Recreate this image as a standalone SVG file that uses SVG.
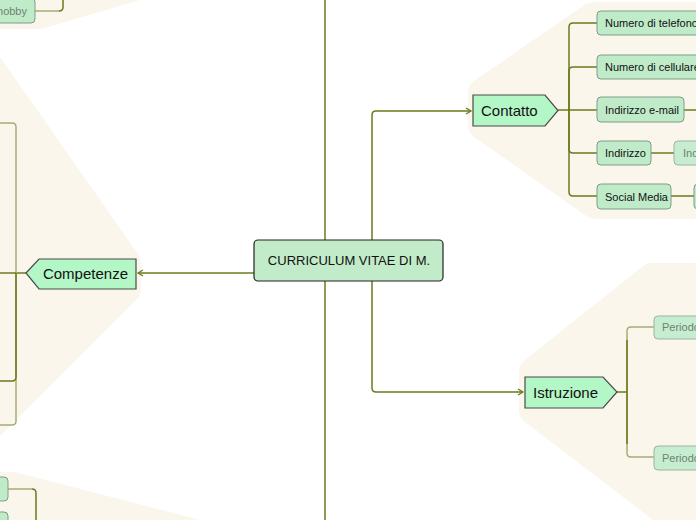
<svg xmlns="http://www.w3.org/2000/svg" width="696" height="520" viewBox="0 0 696 520">
<defs>
<style>
.bg{fill:#faf6ec;stroke:none}
.edge{fill:none;stroke:#697b1c;stroke-width:1.5}
.edge.dim{stroke:#a5ad74}
.main{fill:#b4f7c6;stroke:#4a4a4a;stroke-width:1.2}
.sub{fill:#c0ebc9;stroke:#7e9d86;stroke-width:1}
.sub.dim{fill:#c6edd0;stroke:#9bb5a1}
.t{font-family:"Liberation Sans",Arial,sans-serif;fill:#111}
.tm{font-size:15px}
.ts{font-size:11px}
.td{fill:#6e8272}
</style>
<marker id="arr" markerWidth="8" markerHeight="8" refX="6" refY="4" orient="auto" markerUnits="userSpaceOnUse">
<path d="M1,1 L6,4 L1,7" fill="none" stroke="#697b1c" stroke-width="1.3"/>
</marker>
</defs>
<rect width="696" height="520" fill="#ffffff"/>

<g id="backgrounds">
<path class="bg" d="M0,0 H140 L48,27 Q44,29 38,29 H0 Z"/>
<path class="bg" d="M0,57 L133,247 Q141,256 141,264 V289 Q141,296 134,302 L0,436 Z"/>
<path class="bg" d="M596,2 H696 V219 H598 Q590,219 585,215 L474,137 Q468,132 468,125 V92 Q468,85 474,81 L583,6 Q588,2 596,2 Z"/>
<path class="bg" d="M652,263 H696 V520 H653 L524,421 Q519,417 519,410 V372 Q519,365 525,360 L642,267 Q646,263 652,263 Z"/>
<path class="bg" d="M0,472 H15 L200,520 H0 Z"/>
</g>

<g id="connectors">
<path class="edge" d="M325,240 V0"/>
<path class="edge" d="M325,281 V520"/>
<path class="edge" d="M372,240 V115 Q372,111 376,111 H471" marker-end="url(#arr)"/>
<path class="edge" d="M372,281 V388 Q372,392 376,392 H523" marker-end="url(#arr)"/>
<path class="edge" d="M254,273 H138" marker-end="url(#arr)"/>
<path class="edge" d="M558,110 H569"/>
<path class="edge" d="M569,110 V27 Q569,23 573,23 H597"/>
<path class="edge" d="M569,110 V71 Q569,67 573,67 H597"/>
<path class="edge" d="M569,110 H597"/>
<path class="edge" d="M569,110 V149 Q569,153 573,153 H597"/>
<path class="edge" d="M569,110 V192 Q569,196 573,196 H597"/>
<path class="edge" d="M684,110 H696"/>
<path class="edge" d="M651,153 H674"/>
<path class="edge" d="M671,196 H694"/>
<path class="edge" d="M617,392 H627"/>
<path class="edge dim" d="M627,392 V331 Q627,327 631,327 H654"/>
<path class="edge dim" d="M627,392 V453 Q627,457 631,457 H654"/>
<path class="edge" d="M627,392 V340 M627,392 V444"/>
<path class="edge" d="M26,273 H16"/>
<path class="edge dim" d="M16,273 V127 Q16,123 12,123 H0"/>
<path class="edge dim" d="M16,273 V421 Q16,425 12,425 H0"/>
<path class="edge" d="M16,273 H0"/>
<path class="edge" d="M16,273 V377 Q16,381 12,381 H0"/>
<path class="edge dim" d="M35,11 H59"/>
<path class="edge" d="M59,11 Q63,11 63,7 V0"/>
<path class="edge dim" d="M8,489 H32"/>
<path class="edge" d="M32,489 Q36,489 36,493 V520"/>
</g>

<g id="root">
<rect x="254" y="240" width="189" height="41" rx="4" fill="#c2ebc9" stroke="#222" stroke-width="1.2"/>
<text class="t" x="349" y="265" font-size="13" text-anchor="middle">CURRICULUM VITAE DI M.</text>
</g>

<g id="contatto">
<polygon class="main" points="473,95 545,95 558,110.5 545,126 473,126"/>
<text class="t tm" x="481" y="116">Contatto</text>
</g>
<g id="istruzione">
<polygon class="main" points="525,377 603,377 617,392 603,408 525,408"/>
<text class="t tm" x="533" y="398">Istruzione</text>
</g>
<g id="competenze">
<polygon class="main" points="26,273 39,259 136,259 136,289 39,289"/>
<text class="t tm" x="128" y="279" text-anchor="end">Competenze</text>
</g>

<g id="telefono">
<rect class="sub" x="597" y="11" width="110" height="24" rx="4"/>
<text class="t ts" x="605" y="27">Numero di telefono</text>
</g>
<g id="cellulare">
<rect class="sub" x="597" y="55" width="110" height="24" rx="4"/>
<text class="t ts" x="605" y="71">Numero di cellulare</text>
</g>
<g id="email">
<rect class="sub" x="597" y="97" width="87" height="25" rx="4"/>
<text class="t ts" x="605" y="114">Indirizzo e-mail</text>
</g>
<g id="indirizzo">
<rect class="sub" x="597" y="141" width="54" height="24" rx="4"/>
<text class="t ts" x="605" y="157">Indirizzo</text>
</g>
<g id="indirizzo-det">
<rect class="sub dim" x="674" y="141" width="60" height="24" rx="4"/>
<text class="t ts td" x="683" y="157">Ind</text>
</g>
<g id="social">
<rect class="sub" x="597" y="184" width="74" height="25" rx="4"/>
<text class="t ts" x="605" y="201">Social Media</text>
</g>
<g id="social-det">
<rect class="sub" x="694" y="184" width="40" height="25" rx="4"/>
</g>

<g id="periodo1">
<rect class="sub dim" x="654" y="316" width="60" height="23" rx="4"/>
<text class="t ts td" x="662" y="331">Periodo</text>
</g>
<g id="periodo2">
<rect class="sub dim" x="654" y="446" width="60" height="24" rx="4"/>
<text class="t ts td" x="662" y="462">Periodo</text>
</g>

<g id="hobby">
<rect class="sub" x="-20" y="-2" width="55" height="25" rx="4"/>
<text class="t ts td" x="27" y="15" text-anchor="end">hobby</text>
</g>
<g id="bl1">
<rect class="sub" x="-50" y="477" width="58" height="24" rx="4"/>
</g>
<g id="bl2">
<rect class="sub" x="-50" y="512" width="58" height="24" rx="4"/>
</g>
</svg>
